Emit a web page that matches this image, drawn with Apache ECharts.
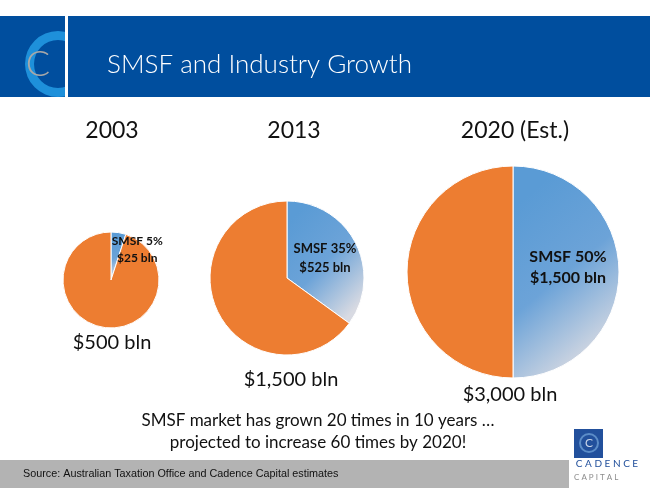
<!DOCTYPE html>
<html>
<head>
<meta charset="utf-8">
<script src="https://cdn.jsdelivr.net/npm/echarts@6/dist/echarts.min.js"></script>
<style>
html,body{margin:0;padding:0;background:#fff;}
#chart{width:650px;height:488px;}
</style>
</head>
<body>
<div id="chart"></div>
<script>
// ---- data ----
const years = ['2003', '2013', '2020 (Est.)'];
const smsfPct = [5, 35, 50];
const smsfBln = ['$25 bln', '$525 bln', '$1,500 bln'];
const totalLabels = ['$500 bln', '$1,500 bln', '$3,000 bln'];
const titleText = 'SMSF and Industry Growth';
const noteLines = ['SMSF market has grown 20 times in 10 years …', 'projected to increase 60 times by 2020!'];
const sourceText = 'Source: Australian Taxation Office and Cadence Capital estimates';

// ---- layout / style ----
const centers = [[111, 280], [287, 278], [513, 272]];
const radii = [48, 77, 106];
const labelFont = [12, 13, 16];
const labelLH = [17, 19, 21];
const labelOffset = [[22, -4], [1, -1], [-1, -5]];
const yearPos = [[112, 131], [294, 131], [515, 131]];
const totalPos = [[112, 343], [291, 380], [510, 395]];
const FONT = 'Lato, "Open Sans", sans-serif';
const ORANGE = '#ED7D31';
const blueGrad = {
  type: 'linear', x: 0, y: 0.2, x2: 1, y2: 0.8,
  colorStops: [{offset: 0, color: '#5A9BD5'}, {offset: 0.5, color: '#6CA3D8'}, {offset: 1, color: '#D8DAE2'}]
};

const series = years.map((y, i) => ({
  type: 'pie',
  center: centers[i],
  radius: [0, radii[i]],
  startAngle: 90,
  clockwise: true,
  silent: true,
  animation: false,
  emphasis: {disabled: true},
  labelLine: {show: false},
  itemStyle: {borderColor: '#ffffff', borderWidth: 1},
  data: [
    {
      value: smsfPct[i], name: 'SMSF',
      itemStyle: {color: blueGrad},
      label: {
        show: true, position: 'inside',
        formatter: 'SMSF ' + smsfPct[i] + '%\n' + smsfBln[i],
        fontFamily: FONT, fontWeight: 'bold', fontSize: labelFont[i],
        lineHeight: labelLH[i], color: '#111', offset: labelOffset[i]
      }
    },
    {value: 100 - smsfPct[i], name: 'Other', itemStyle: {color: ORANGE}, label: {show: false}}
  ]
}));

const graphics = [];
// header
graphics.push({type: 'rect', z: 1, shape: {x: 0, y: 16, width: 650, height: 81}, style: {fill: '#004E9E'}});
graphics.push({type: 'ring', z: 2, shape: {cx: 58, cy: 64, r: 33, r0: 24}, style: {fill: '#1E90DA'}});
graphics.push({type: 'rect', z: 3, shape: {x: 65, y: 16, width: 3, height: 81}, style: {fill: '#ffffff'}});
graphics.push({type: 'rect', z: 3, shape: {x: 68, y: 16, width: 582, height: 81}, style: {fill: '#004E9E'}});
graphics.push({type: 'rect', z: 3, shape: {x: 0, y: 97, width: 66, height: 12}, style: {fill: '#ffffff'}});
graphics.push({type: 'text', z: 4, x: 38, y: 64, style: {text: 'C', font: '300 36px ' + FONT, fill: '#A8A8A8', align: 'center', verticalAlign: 'middle'}});
graphics.push({type: 'text', z: 4, x: 107, y: 65, style: {text: titleText, font: '300 26px ' + FONT, fill: '#ffffff', verticalAlign: 'middle'}});
// year labels
years.forEach((y, i) => graphics.push({type: 'text', x: yearPos[i][0], y: yearPos[i][1], style: {text: y, font: '23px ' + FONT, fill: '#111', align: 'center', verticalAlign: 'middle'}}));
// totals
totalLabels.forEach((t, i) => graphics.push({type: 'text', x: totalPos[i][0], y: totalPos[i][1], style: {text: t, font: '20px ' + FONT, fill: '#111', align: 'center', verticalAlign: 'middle'}}));
// note
noteLines.forEach((t, i) => graphics.push({type: 'text', x: 318, y: 421 + i * 22, style: {text: t, font: '17px ' + FONT, fill: '#111', align: 'center', verticalAlign: 'middle'}}));
// footer
graphics.push({type: 'rect', shape: {x: 0, y: 460, width: 569, height: 28}, style: {fill: '#B3B3B3'}});
graphics.push({type: 'text', x: 23, y: 474, style: {text: sourceText, font: '10.8px "Liberation Sans", Arial, sans-serif', fill: '#111', verticalAlign: 'middle'}});
// cadence logo
graphics.push({type: 'rect', shape: {x: 574, y: 429, width: 29, height: 29}, style: {fill: '#22509C'}});
graphics.push({type: 'ring', shape: {cx: 589, cy: 443, r: 10, r0: 8}, style: {fill: '#5C8DC8'}});
graphics.push({type: 'text', x: 589, y: 443, style: {text: 'C', font: '12px ' + FONT, fill: '#C8D4E8', align: 'center', verticalAlign: 'middle'}});
graphics.push({type: 'text', x: 607, y: 464, style: {text: 'C A D E N C E', font: '10px ' + FONT, fill: '#22509C', align: 'center', verticalAlign: 'middle'}});
graphics.push({type: 'text', x: 574, y: 477, style: {text: 'C A P I T A L', font: '8px ' + FONT, fill: '#8C8C8C', verticalAlign: 'middle'}});

const chart = echarts.init(document.getElementById('chart'), null, {renderer: 'canvas'});
chart.setOption({
  animation: false,
  backgroundColor: '#ffffff',
  series: series,
  graphic: {elements: graphics}
});
</script>
</body>
</html>
